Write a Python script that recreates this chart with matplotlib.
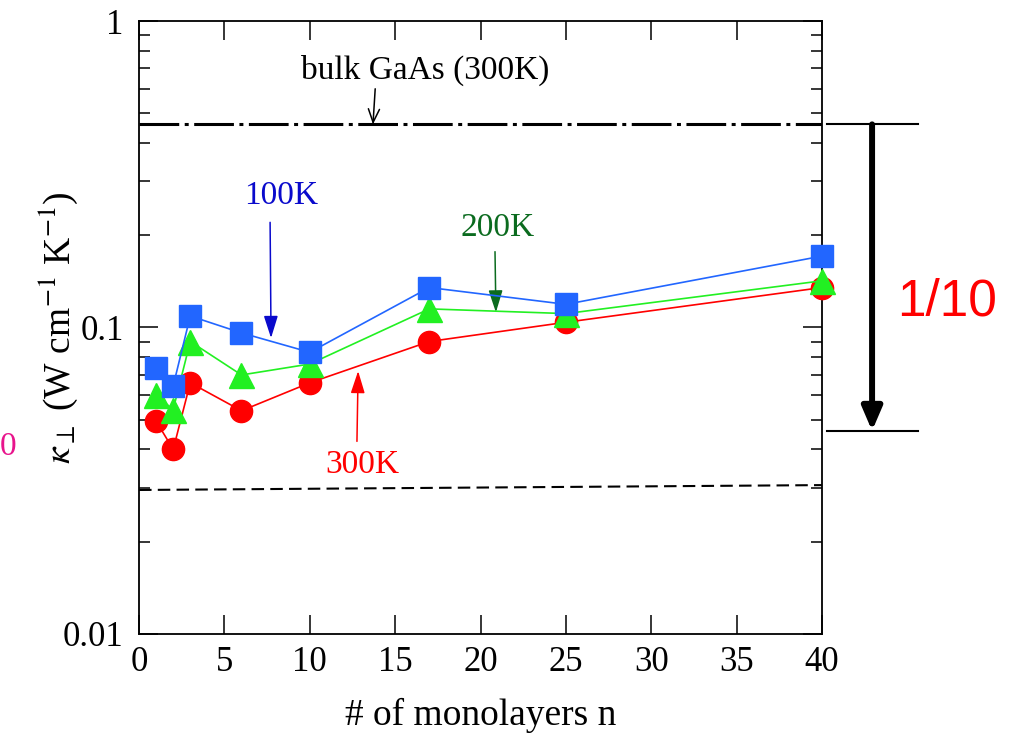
import matplotlib
matplotlib.use("Agg")
import matplotlib.pyplot as plt
from matplotlib.ticker import LogLocator, NullFormatter, FixedLocator

plt.rcParams['font.family'] = ['Liberation Serif', 'DejaVu Serif']
plt.rcParams['mathtext.fontset'] = 'stix'

# ------------------------------
# Data: cross-plane thermal conductivity vs. number of monolayers
# ------------------------------
n_layers = [1, 2, 3, 6, 10, 17, 25, 40]
kappa_100K = [0.074, 0.0645, 0.109, 0.096, 0.083, 0.135, 0.119, 0.171]
kappa_200K = [0.060, 0.054, 0.090, 0.070, 0.076, 0.115, 0.111, 0.142]
kappa_300K = [0.0495, 0.040, 0.066, 0.0535, 0.066, 0.090, 0.104, 0.135]

bulk_gaas = 0.46              # W/cm/K at 300K
limit_x = [0, 40]
limit_kappa = [0.0295, 0.0306]  # lower dashed reference line

x_ticks = [0, 5, 10, 15, 20, 25, 30, 35, 40]
y_ticks = [0.01, 0.1, 1]
y_ticklabels = ["0.01", "0.1", "1"]

blue = "#2266ff"
green = "#22f022"
red = "#ff0000"

# ------------------------------
# Figure
# ------------------------------
fig = plt.figure(figsize=(10.12, 7.37), dpi=100)
ax = fig.add_axes([0.1374, 0.1398, 0.6749, 0.8317])
ax.set_yscale("log")
ax.set_xlim(0, 40)
ax.set_ylim(0.01, 1)

# reference lines
ax.plot([0, 40], [bulk_gaas, bulk_gaas], color="black", lw=2.2,
        ls=(0, (13, 1.8, 1.3, 1.8)), zorder=2)
ax.plot(limit_x, limit_kappa, color="black", lw=1.5, ls=(0, (6, 3)), zorder=2)

# data series
ax.plot(n_layers, kappa_300K, color=red, lw=1.2, marker="o", ms=16,
        mec=red, mfc=red, clip_on=False, zorder=3)
ax.plot(n_layers, kappa_200K, color=green, lw=1.2, marker="^", ms=18,
        mec=green, mfc=green, clip_on=False, zorder=4)
ax.plot(n_layers, kappa_100K, color=blue, lw=1.2, marker="s", ms=16,
        mec=blue, mfc=blue, clip_on=False, zorder=5)

# annotations
ax.annotate("bulk GaAs (300K)", xy=(13.7, bulk_gaas), xytext=(16.75, 0.69),
            ha="center", va="center", fontsize=24,
            arrowprops=dict(arrowstyle="->,head_length=0.6,head_width=0.25",
                            color="black", lw=1.1, mutation_scale=16,
                            shrinkA=0, shrinkB=0, relpos=(0.3, 0.0)))

head = "-|>,head_length=0.85,head_width=0.27"
ax.annotate("100K", xy=(7.73, 0.0924), xytext=(8.32, 0.2686),
            ha="center", va="center", fontsize=24, color="#0a0acc",
            arrowprops=dict(arrowstyle=head, color="#0a0acc", lw=1.1,
                            mutation_scale=16, shrinkA=6, shrinkB=0,
                            relpos=(0.35, 0.0)))
ax.annotate("200K", xy=(20.9, 0.112), xytext=(20.97, 0.211),
            ha="center", va="center", fontsize=24, color="#0b6b1f",
            arrowprops=dict(arrowstyle=head, color="#0b6b1f", lw=1.1,
                            mutation_scale=16, shrinkA=4, shrinkB=0,
                            relpos=(0.47, 0.0)))
ax.annotate("300K", xy=(12.83, 0.0721), xytext=(13.1, 0.0356),
            ha="center", va="center", fontsize=24, color=red,
            arrowprops=dict(arrowstyle=head, color=red, lw=1.1,
                            mutation_scale=16, shrinkA=4, shrinkB=0,
                            relpos=(0.42, 1.0)))

# 1/10 bracket outside the frame
ax.plot([40.3, 45.6], [bulk_gaas, bulk_gaas], color="black", lw=1.5, clip_on=False)
ax.plot([40.3, 45.6], [bulk_gaas / 10, bulk_gaas / 10], color="black", lw=1.5,
        clip_on=False)
ax.annotate("", xy=(42.93, bulk_gaas / 10), xytext=(42.93, bulk_gaas),
            annotation_clip=False,
            arrowprops=dict(arrowstyle="-|>,head_length=0.7,head_width=0.3",
                            color="black", lw=4.3, mutation_scale=20,
                            shrinkA=0, shrinkB=0))
ax.text(47.3, 0.121, "1/10", color=red, fontsize=37, ha="center", va="center",
        family="Liberation Sans")

# axes and ticks
ax.set_xticks(x_ticks)
ax.yaxis.set_major_locator(FixedLocator(y_ticks))
ax.set_yticklabels(y_ticklabels)
ax.yaxis.set_minor_locator(LogLocator(base=10, subs=range(2, 10)))
ax.yaxis.set_minor_formatter(NullFormatter())
ax.tick_params(which="both", direction="in", top=True, right=True, width=1.1)
ax.tick_params(which="major", length=14, labelsize=25)
ax.tick_params(which="minor", length=8)
ax.tick_params(axis="x", pad=9)
ax.tick_params(axis="y", pad=11)
for spine in ax.spines.values():
    spine.set_linewidth(1.3)

ax.set_xlabel("# of monolayers n", fontsize=27, labelpad=13)
ax.set_ylabel(r"$\kappa_{\perp}$ (W cm$^{-1}$ K$^{-1}$)", fontsize=27)
ax.yaxis.set_label_coords(-0.086, 0.5)

fig.text(8 / 1012, 1 - 447 / 737, "0", color="#e8148c", fontsize=24,
         ha="center", va="center")

fig.savefig("out.png", dpi=100)
